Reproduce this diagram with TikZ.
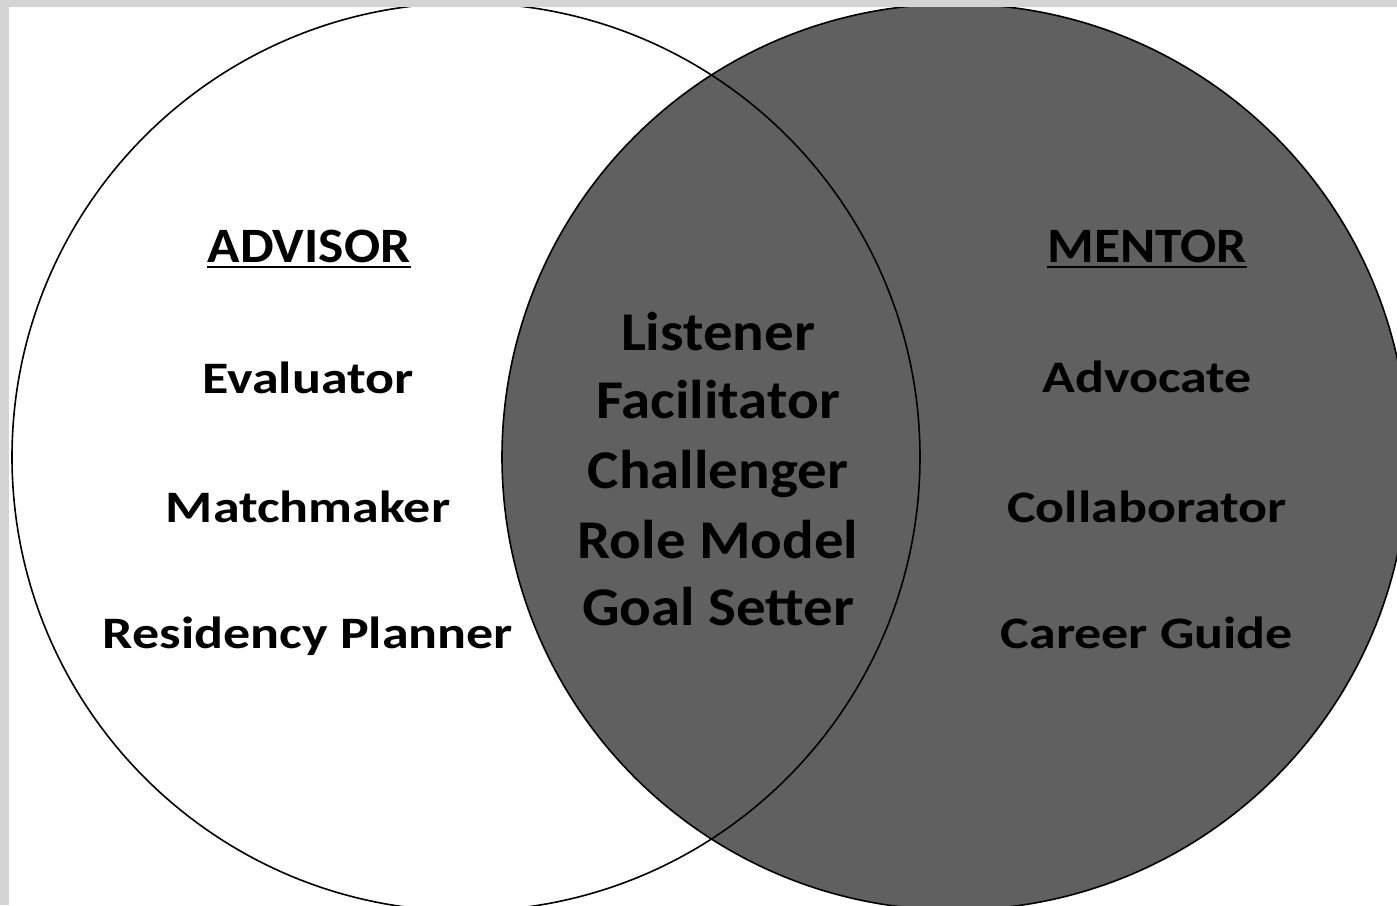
\documentclass[tikz,border=0pt]{standalone}
\usepackage{fontspec}
\setmainfont{Carlito}
\newfontfamily\lblfont[FakeStretch=1.2]{Carlito}
\newfontfamily\midfont[FakeStretch=1.08]{Carlito}
\newfontfamily\headfont[FakeStretch=1.08]{Carlito}
\begin{document}
\begin{tikzpicture}[x=1pt,y=-1pt,
  lbl/.style={inner sep=0pt,anchor=base,font=\lblfont\fontsize{45}{45}\selectfont\bfseries},
  mid/.style={inner sep=0pt,anchor=base,font=\midfont\fontsize{54.6}{54.6}\selectfont\bfseries},
  head/.style={inner sep=0pt,anchor=base,font=\headfont\fontsize{49.5}{49.5}\selectfont\bfseries},
  circ/.style={line width=1.6pt,draw=black}]
\definecolor{bordergray}{RGB}{212,212,212}
\definecolor{darkfill}{RGB}{96,96,96}
\useasboundingbox (0,0) rectangle (1397,905);
\fill[bordergray] (0,0) rectangle (1397,905);
\fill[white] (9,7) rectangle (1397,905);
\begin{scope}
\clip (9,7) rectangle (1397,905);
\fill[white] (466,457) circle[radius=454];
\path[circ,fill=darkfill] (955,457) circle[radius=453];
\draw[circ] (466,457) circle[radius=454];
\end{scope}
% headings
\node[head] (adv) at (309,262) {ADVISOR};
\node[head] (men) at (1147,262) {MENTOR};
\draw[line width=1.8pt] ([yshift=-5pt]adv.base west) -- ([yshift=-5pt]adv.base east);
\draw[line width=1.8pt] ([yshift=-5pt]men.base west) -- ([yshift=-5pt]men.base east);
% advisor items
\node[lbl] (eva) at (308,393) {Evaluator};
\node[lbl] (mat) at (308,522) {Matchmaker};
\node[lbl] (res) at (308,648) {Residency Planner};
% mentor items
\node[lbl] (advc) at (1147,392) {Advocate};
\node[lbl] (col) at (1147,522) {Collaborator};
\node[lbl] (car) at (1147,648) {Career Guide};
% shared items
\node[mid] (lis) at (718,350) {Listener};
\node[mid] (fac) at (718,418) {Facilitator};
\node[mid] (cha) at (718,488) {Challenger};
\node[mid] (rol) at (718,558) {Role Model};
\node[mid] (goa) at (718,625) {Goal Setter};
\end{tikzpicture}
\end{document}
